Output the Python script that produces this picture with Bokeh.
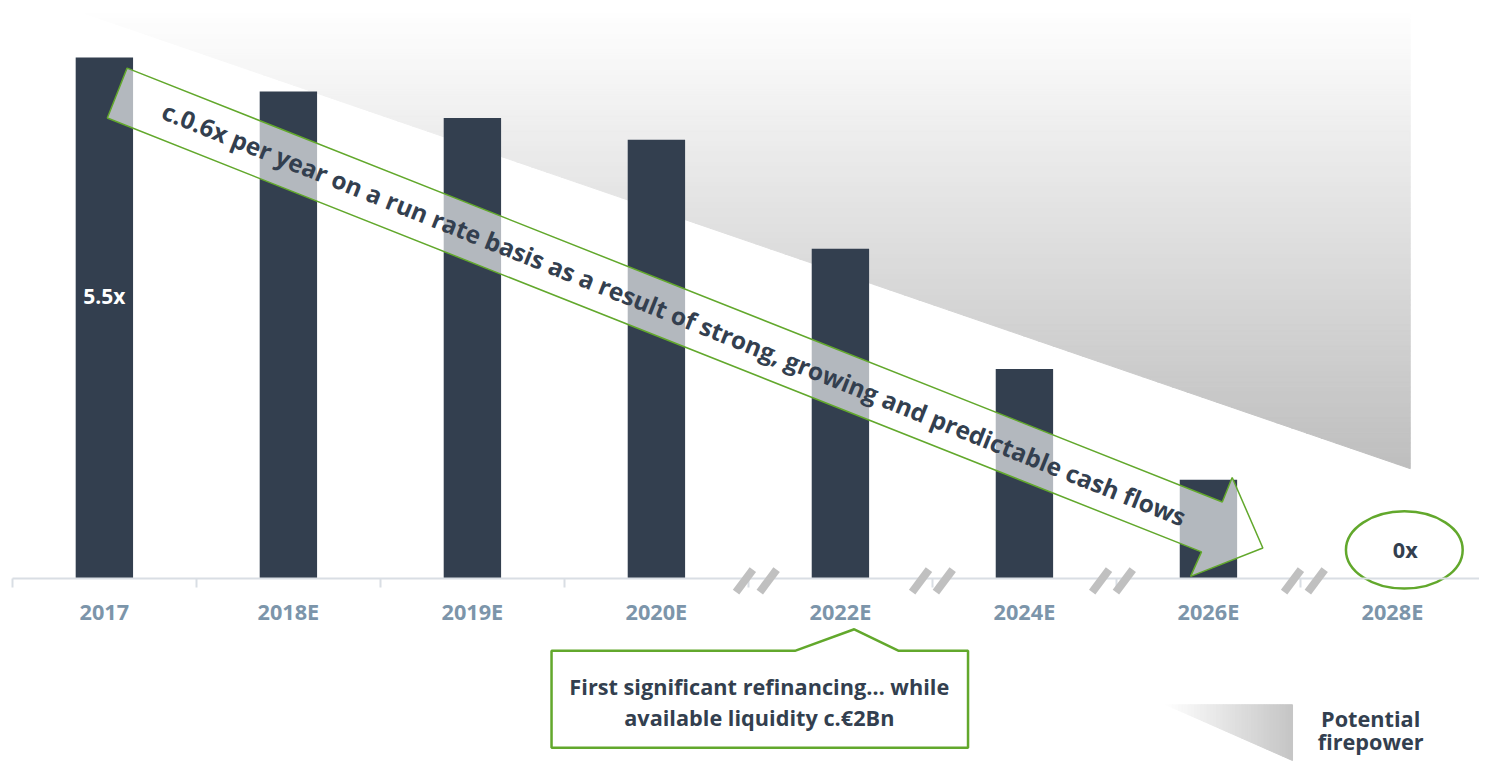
import numpy as np
from bokeh.plotting import figure
from bokeh.models import FixedTicker, Range1d
from bokeh.embed import file_html
from bokeh.resources import INLINE
from bokeh.core.properties import value

# ---------------- data ----------------
categories = ["2017", "2018E", "2019E", "2020E", "2022E", "2024E", "2026E", "2028E"]
leverage = [5.5, 5.14, 4.86, 4.63, 3.48, 2.21, 1.04, 0.0]
first_label = "5.5x"
last_label = "0x"
arrow_text = "c.0.6x per year on a run rate basis  as a result of strong, growing and predictable cash flows"
callout_lines = ["First significant refinancing\u2026 while", "available liquidity c.\u20ac2Bn"]
side_lines = ["Potential", "firepower"]

# ---------------- geometry helpers (reference-pixel -> data) ----------------
W, H = 1479, 762
REF_W, REF_H = 1495, 778
XPX = 186.0   # reference px per category
YPX = 96.7    # reference px per unit of leverage


def X(px):
    return (px - 105) / XPX


def Y(py):
    return (590 - py) / YPX


x0, x1 = X(0), X(REF_W)
y1, y0 = Y(0), Y(REF_H)

DARK = "#333F4F"
GREEN = "#62A82C"
TICKC = "#7C95AA"
AXISC = "#D9DEE4"
FONT = value("Open Sans")
FS = "21.7px"

p = figure(width=W, height=H, x_range=Range1d(x0, x1), y_range=Range1d(y0, y1),
           output_backend="svg", toolbar_location=None, min_border=0,
           outline_line_color=None, y_axis_location=None,
           background_fill_color="white", border_fill_color="white")
p.grid.visible = False

# ---------------- background gradient triangle ----------------
N = 90
xs, ys, cols = [], [], []
ytop, ybot, xleft, xright = 8.0, 478.0, 70.0, 1425.0
for k in range(N):
    ya = ytop + (ybot - ytop) * k / N
    yb = ytop + (ybot - ytop) * (k + 1) / N
    xa = xleft + (ya - ytop) / (ybot - ytop) * (xright - xleft)
    xb = xleft + (yb - ytop) / (ybot - ytop) * (xright - xleft)
    xs.append([X(xa), X(xright), X(xright), X(xb)])
    ys.append([Y(ya), Y(ya), Y(yb), Y(yb)])
    t = (k + 0.5) / N
    c = int(round(255 - 65 * t))
    cols.append("#%02x%02x%02x" % (c, c, c))
p.patches(xs, ys, fill_color=cols, line_color=cols, line_width=1)

# small gradient triangle near "Potential firepower"
M = 40
xs2, ys2, cols2 = [], [], []
for k in range(M):
    xa = 1178 + (1306 - 1178) * k / M
    xb = 1178 + (1306 - 1178) * (k + 1) / M
    ba = 719 + (xa - 1178) * 57 / 128
    bb = 719 + (xb - 1178) * 57 / 128
    xs2.append([X(xa), X(xb), X(xb), X(xa)])
    ys2.append([Y(719), Y(719), Y(bb), Y(ba)])
    t = (k + 0.5) / M
    c = int(round(255 - 58 * t))
    cols2.append("#%02x%02x%02x" % (c, c, c))
p.patches(xs2, ys2, fill_color=cols2, line_color=cols2, line_width=1)

# ---------------- bars ----------------
idx = list(range(len(categories)))
p.vbar(x=idx, top=leverage, width=58 / XPX, fill_color=DARK, line_color=None)

# ---------------- axis ----------------
ax = p.xaxis[0]
ax.fixed_location = 0
ax.ticker = FixedTicker(ticks=idx, minor_ticks=[i - 0.5 for i in idx])
ax.major_label_overrides = {i: c for i, c in zip(idx, categories)}
ax.bounds = (X(12), x1)
ax.axis_line_color = AXISC
ax.axis_line_width = 2
ax.major_tick_line_color = None
ax.major_tick_out = 0
ax.major_tick_in = 0
ax.minor_tick_line_color = AXISC
ax.minor_tick_line_width = 2
ax.minor_tick_out = 9
ax.minor_tick_in = 0
ax.major_label_standoff = 10
ax.major_label_text_font = "Open Sans"
ax.major_label_text_font_style = "bold"
ax.major_label_text_font_size = FS
ax.major_label_text_color = TICKC

# ---------------- axis break slashes ----------------
sx0, sy0, sx1, sy1 = [], [], [], []
for cpx in [764, 942, 1124, 1318]:
    for off in (-12, 12):
        c = cpx + off
        sx0.append(X(c - 8.5)); sy0.append(Y(604))
        sx1.append(X(c + 8.5)); sy1.append(Y(581))
seg = p.segment(sx0, sy0, sx1, sy1, line_color="#C0C0C0", line_width=8, line_cap="butt")
seg.level = "overlay"

# ---------------- big arrow ----------------
arrow_px = [(128, 69), (1235, 512), (1245, 487), (1276, 559), (1203, 588), (1214, 563), (108, 120)]
p.patch([X(a) for a, b in arrow_px], [Y(b) for a, b in arrow_px],
        fill_color="white", fill_alpha=0.63, line_color=GREEN, line_width=1.5)
p.text(x=[X(684)], y=[Y(321)], text=[arrow_text], angle=-np.arctan(0.4),
       text_align="center", text_baseline="middle", text_font=FONT,
       text_font_style="bold", text_font_size="24.4px", text_color=DARK)

# ---------------- bar value labels ----------------
p.text(x=[idx[0]], y=[Y(302)], text=[first_label], text_align="center",
       text_baseline="middle", text_font=FONT, text_font_style="bold",
       text_font_size="21px", text_color="white")

p.ellipse(x=[X(1419)], y=[Y(561)], width=118 / XPX, height=79 / YPX,
          fill_color="white", line_color=GREEN, line_width=2.5)
p.text(x=[X(1420)], y=[Y(561)], text=[last_label], text_align="center",
       text_baseline="middle", text_font=FONT, text_font_style="bold",
       text_font_size=FS, text_color=DARK)

# ---------------- callout ----------------
call_px = [(557, 664), (803, 664), (863, 642), (908, 664), (978, 664), (978, 763), (557, 763)]
p.patch([X(a) for a, b in call_px], [Y(b) for a, b in call_px],
        fill_color="white", line_color=GREEN, line_width=2.5)
p.text(x=[X(767)] * 2, y=[Y(700), Y(732)], text=callout_lines, text_align="center",
       text_baseline="middle", text_font=FONT, text_font_style="bold",
       text_font_size=FS, text_color=DARK)

# ---------------- side note ----------------
p.text(x=[X(1385)] * 2, y=[Y(733), Y(757)], text=side_lines, text_align="center",
       text_baseline="middle", text_font=FONT, text_font_style="bold",
       text_font_size=FS, text_color=DARK)

open("out.html", "w").write(file_html(p, INLINE))
